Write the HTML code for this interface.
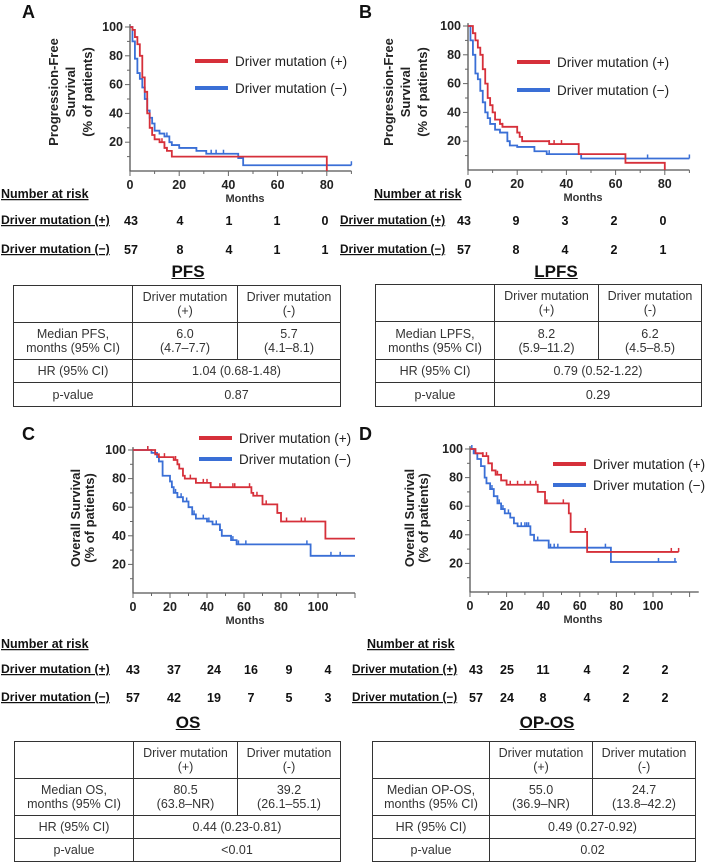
<!DOCTYPE html>
<html><head><meta charset="utf-8">
<style>
body{margin:0;background:#fff;width:709px;height:863px;position:relative;overflow:hidden;font-family:"Liberation Sans",Arial,sans-serif;}
svg{position:absolute;left:0;top:0}
.t{position:absolute;border-collapse:collapse;font-size:12.5px;color:#333;text-align:center;}
.t td{border:1.5px solid #333;padding:0;line-height:14px;}
.ttl{position:absolute;font-weight:bold;font-size:17px;text-decoration:underline;color:#111;transform:translateX(-50%);}
</style></head><body>
<svg id="fig" width="709" height="863"></svg>

<div class="ttl" style="left:188px;top:262px">PFS</div>
<table class="t" style="left:13px;top:285px;width:328px">
<tr style="height:37px"><td style="width:118px"></td><td style="width:104px">Driver mutation<br>(+)</td><td>Driver mutation<br>(-)</td></tr>
<tr style="height:37px"><td>Median PFS,<br>months (95% CI)</td><td>6.0<br>(4.7–7.7)</td><td>5.7<br>(4.1–8.1)</td></tr>
<tr style="height:23px"><td>HR (95% CI)</td><td colspan="2">1.04 (0.68-1.48)</td></tr>
<tr style="height:24px"><td>p-value</td><td colspan="2">0.87</td></tr></table>

<div class="ttl" style="left:556px;top:262px">LPFS</div>
<table class="t" style="left:375px;top:284px;width:327px">
<tr style="height:37px"><td style="width:118px"></td><td style="width:103px">Driver mutation<br>(+)</td><td>Driver mutation<br>(-)</td></tr>
<tr style="height:38px"><td>Median LPFS,<br>months (95% CI)</td><td>8.2<br>(5.9–11.2)</td><td>6.2<br>(4.5–8.5)</td></tr>
<tr style="height:23px"><td>HR (95% CI)</td><td colspan="2">0.79 (0.52-1.22)</td></tr>
<tr style="height:24px"><td>p-value</td><td colspan="2">0.29</td></tr></table>

<div class="ttl" style="left:188px;top:713px">OS</div>
<table class="t" style="left:14px;top:741px;width:327px">
<tr style="height:37px"><td style="width:118px"></td><td style="width:103px">Driver mutation<br>(+)</td><td>Driver mutation<br>(-)</td></tr>
<tr style="height:37px"><td>Median OS,<br>months (95% CI)</td><td>80.5<br>(63.8–NR)</td><td>39.2<br>(26.1–55.1)</td></tr>
<tr style="height:23px"><td>HR (95% CI)</td><td colspan="2">0.44 (0.23-0.81)</td></tr>
<tr style="height:23px"><td>p-value</td><td colspan="2">&lt;0.01</td></tr></table>

<div class="ttl" style="left:547px;top:713px">OP-OS</div>
<table class="t" style="left:372px;top:741px;width:324px">
<tr style="height:37px"><td style="width:116px"></td><td style="width:102px">Driver mutation<br>(+)</td><td>Driver mutation<br>(-)</td></tr>
<tr style="height:37px"><td>Median OP-OS,<br>months (95% CI)</td><td>55.0<br>(36.9–NR)</td><td>24.7<br>(13.8–42.2)</td></tr>
<tr style="height:23px"><td>HR (95% CI)</td><td colspan="2">0.49 (0.27-0.92)</td></tr>
<tr style="height:23px"><td>p-value</td><td colspan="2">0.02</td></tr></table>

<script>
// ---- Data (months, % survival) ----
const aPosT=[0,1,2,3,4,5,6,7,8,9,10,12,14,15,17,80];
const aPosS=[100,98,93,88,80,65,55,40,30,25,22,20,16,14,10,0];
const aPosC=[13,14,15,80];
const aNegT=[0,1,2,3,4,5,6,7,8,9,10,12,14,16,17,20,27,31,44,46,90];
const aNegS=[100,90,78,68,64,58,50,42,37,33,28,26,24,20,18,16,14,12,9,4,4];
const aNegC=[15,33,35,38,44,90];

const bPosT=[0,2,3,4,5,6,7,8,9,10,11,13,14,20,21,22,33,45,64,80];
const bPosS=[100,95,90,85,80,70,60,50,45,40,35,32,30,26,23,20,18,11,5,0];
const bPosC=[14,33,35,38];
const bNegT=[0,1,2,3,4,5,6,7,8,9,11,13,16,17,20,27,32,46,90];
const bNegS=[100,90,80,67,63,55,47,40,36,32,28,26,20,17,16,13,11,8,8];
const bNegC=[16,33,73,90];

const cPosT=[0,12,14,22,24,25,27,28,34,42,64,65,70,78,80,104,120];
const cPosS=[100,97,95,93,90,87,82,80,77,74,70,68,62,56,50,38,38];
const cPosC=[8,12,17,23,31,38,40,47,54,55,63,67,72,83,91,93];
const cNegT=[0,10,13,14,16,20,21,22,24,27,30,32,34,40,43,47,48,53,56,96,120];
const cNegS=[100,98,95,92,82,78,74,70,67,64,60,55,52,50,48,44,40,37,34,26,26];
const cNegC=[8,21,23,26,29,33,38,41,45,47,54,57,61,94,107,112];

const dPosT=[0,3,7,10,12,14,17,20,37,41,54,55,64,114];
const dPosS=[100,97,95,90,85,82,78,75,70,62,55,42,28,28];
const dPosC=[7,9,15,22,26,30,33,36,42,51,63,110,114];
const dNegT=[0,2,4,6,8,9,11,13,15,17,19,22,24,26,33,35,43,77,113];
const dNegS=[100,97,93,88,80,76,72,67,62,58,55,52,48,46,40,36,31,21,21];
const dNegC=[1,3,12,16,18,21,28,30,31,32,37,44,46,48,74,103,112];

const riskA=[["43","4","1","1","0"],["57","8","4","1","1"]];
const riskB=[["43","9","3","2","0"],["57","8","4","2","1"]];
const riskC=[["43","37","24","16","9","4"],["57","42","19","7","5","3"]];
const riskD=[["43","25","11","4","2","2"],["57","24","8","4","2","2"]];
const yTicks=[20,40,60,80,100];
const xTicksA=[0,20,40,60,80];
const xTicksC=[0,20,40,60,80,100];

const NS="http://www.w3.org/2000/svg";
const svg=document.getElementById('fig');
function mk(tag,attrs,parent){const e=document.createElementNS(NS,tag);for(const k in attrs)e.setAttribute(k,attrs[k]);(parent||svg).appendChild(e);return e;}
function txt(s,x,y,attrs,parent){const e=mk('text',Object.assign({x:x,y:y,'font-family':'Liberation Sans, Arial, sans-serif'},attrs),parent);e.textContent=s;return e;}

const RED='#d6303a',BLUE='#3a6fd6';

function panel(p){
  const g=mk('g',{});
  
  
  const sx=v=>p.x0+v*p.kx, sy=v=>p.y0-v*p.ky;
  const ax=mk('path',{d:`M${p.x0} ${sy(102)} V${p.y0} H${sx(p.xMax)}`,stroke:'#555',fill:'none','stroke-width':1.3},g);
  
  
  for(let v=10;v<=100;v+=10){mk('line',{x1:p.x0-(v%20?3:5),x2:p.x0,y1:sy(v),y2:sy(v),stroke:'#666'},g);}
  yTicks.forEach(v=>{const t=txt(String(v),p.x0-7,sy(v)+4,{'text-anchor':'end','font-size':12.5,'font-weight':'bold',fill:'#222'},g);
    
    });
  for(let v=0;v<=p.xMax;v+=10){mk('line',{x1:sx(v),x2:sx(v),y1:p.y0,y2:p.y0+(v%20?3:5),stroke:'#666'},g);}
  p.xt.forEach(v=>{const t=txt(String(v),sx(v),p.y0+18,{'text-anchor':'middle','font-size':12.5,'font-weight':'bold',fill:'#222'},g);
    
    });
  const mo=txt('Months',p.monthsX,p.y0+31,{'text-anchor':'middle','font-size':11,'font-weight':'bold',fill:'#333'},g);
  
  
  const yt=mk('text',{transform:`translate(${p.ylx},${p.yly}) rotate(-90)`,'text-anchor':'middle','font-size':13,'font-weight':'bold',fill:'#222','font-family':'Liberation Sans, Arial, sans-serif'},g);
  
  
  p.ylab.forEach((s,i)=>{const ts=mk('tspan',{x:0,y:(i-(p.ylab.length-1)/2)*p.ysp+5},yt);ts.textContent=s;});
  function curve(T,S,C,col,nm){
    let d=`M${sx(T[0])} ${sy(S[0])}`;
    for(let i=1;i<T.length;i++){d+=` H${sx(T[i])} V${sy(S[i])}`;}
    const pth=mk('path',{d:d,stroke:col,fill:'none','stroke-width':1.8},g);
    
    
    C.forEach(c=>{let s=S[0];for(let i=0;i<T.length;i++){if(T[i]<=c)s=S[i];}
      const m=mk('line',{x1:sx(c),x2:sx(c),y1:sy(s)-4,y2:sy(s),stroke:col,'stroke-width':1.5},g);
      
      });
  }
  curve(p.negT,p.negS,p.negC,BLUE,p.id+'-driver-negative-curve');
  curve(p.posT,p.posS,p.posC,RED,p.id+'-driver-positive-curve');
  [[RED,'Driver mutation (+)'],[BLUE,'Driver mutation (−)']].forEach((l,i)=>{
    const y=p.legY+i*p.legDy;
    const ln=mk('line',{x1:p.legX,x2:p.legX+33,y1:y,y2:y,stroke:l[0],'stroke-width':4},g);
    
    
    const t=txt(l[1],p.legX+40,y+5,{'font-size':13.5,fill:'#222'},g);
    
    
  });
  const lt=txt(p.id.toUpperCase(),p.lx,p.ly,{'font-size':18,'font-weight':'bold',fill:'#111'},g);
  
  
}

panel({id:'a',x0:130,kx:2.46,y0:171,ky:1.44,xMax:90,xt:xTicksA,monthsX:245,ylx:70,yly:92,ysp:17,ylab:['Progression-Free','Survival','(% of patients)'],
  posT:aPosT,posS:aPosS,posC:aPosC,negT:aNegT,negS:aNegS,negC:aNegC,legX:195,legY:61,legDy:27,lx:22,ly:18});
panel({id:'b',x0:468,kx:2.46,y0:170,ky:1.44,xMax:90,xt:xTicksA,monthsX:583,ylx:405,yly:92,ysp:17,ylab:['Progression-Free','Survival','(% of patients)'],
  posT:bPosT,posS:bPosS,posC:bPosC,negT:bNegT,negS:bNegS,negC:bNegC,legX:517,legY:62,legDy:28,lx:359,ly:18});
panel({id:'c',x0:133,kx:1.85,y0:593,ky:1.43,xMax:120,xt:xTicksC,monthsX:245,ylx:82,yly:518,ysp:14,ylab:['Overall Survival','(% of patients)'],
  posT:cPosT,posS:cPosS,posC:cPosC,negT:cNegT,negS:cNegS,negC:cNegC,legX:199,legY:438,legDy:21,lx:22,ly:440});
panel({id:'d',x0:470,kx:1.83,y0:592,ky:1.43,xMax:125,xt:xTicksC,monthsX:583,ylx:416,yly:518,ysp:14,ylab:['Overall Survival','(% of patients)'],
  posT:dPosT,posS:dPosS,posC:dPosC,negT:dNegT,negS:dNegS,negC:dNegC,legX:553,legY:464,legDy:21,lx:359,ly:440});

function risk(id,hx,hy,lx,rows,xs,y1,y2,fs){
  const h=txt('Number at risk',hx,hy,{'font-size':12.5,'font-weight':'bold',fill:'#111','text-decoration':'underline'});
  
  
  ['Driver mutation (+)','Driver mutation (−)'].forEach((s,i)=>{
    const t=txt(s,lx,i?y2:y1,{'font-size':fs,'font-weight':'bold',fill:'#111','text-decoration':'underline'});
    
    
  });
  rows.forEach((r,i)=>r.forEach((v,j)=>{
    const t=txt(v,xs[j],(i?y2:y1)+1,{'font-size':12.5,'font-weight':'bold',fill:'#111','text-anchor':'middle'});
    
    
  }));
}
risk('a',1,198,1,riskA,[131,180,229,277,325],224,253,12.2);
risk('b',374,198,340,riskB,[464,516,565,614,663],224,253,11.8);
risk('c',1,648,1,riskC,[133,174,214,251,289,328],673,701,12.2);
risk('d',367,648,352,riskD,[476,507,543,587,626,665],673,701,11.8);
</script>
</body></html>
